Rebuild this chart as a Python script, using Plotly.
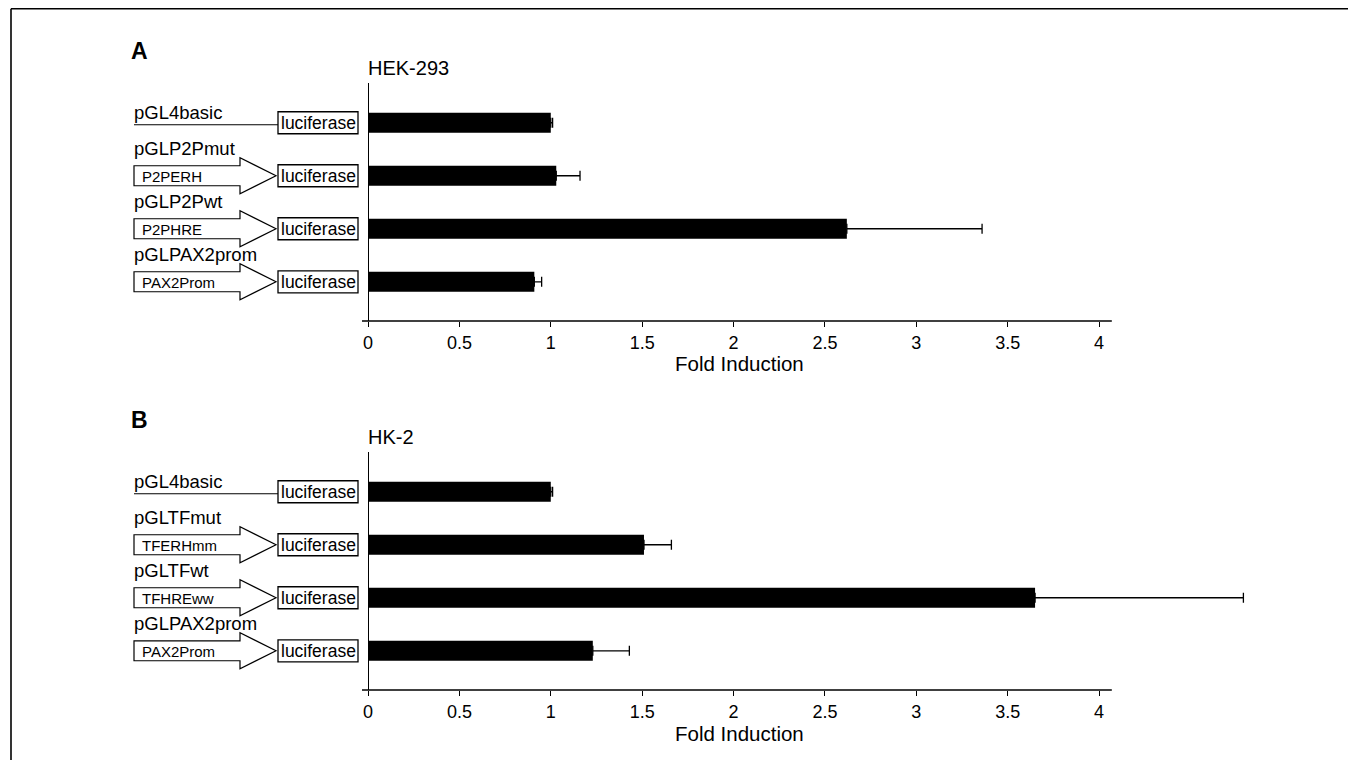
import plotly.graph_objects as go

# ---------------- data ----------------
constructs_A = ["pGL4basic", "pGLP2Pmut", "pGLP2Pwt", "pGLPAX2prom"]
promoters_A = ["", "P2PERH", "P2PHRE", "PAX2Prom"]
fold_A = [1.00, 1.03, 2.62, 0.91]
err_A = [0.01, 0.13, 0.74, 0.04]

constructs_B = ["pGL4basic", "pGLTFmut", "pGLTFwt", "pGLPAX2prom"]
promoters_B = ["", "TFERHmm", "TFHREww", "PAX2Prom"]
fold_B = [1.00, 1.51, 3.65, 1.23]
err_B = [0.01, 0.15, 1.14, 0.20]

x_ticks = [0, 0.5, 1, 1.5, 2, 2.5, 3, 3.5, 4]
x_tick_labels = ["0", "0.5", "1", "1.5", "2", "2.5", "3", "3.5", "4"]

panel_letters = ["A", "B"]
cell_lines = ["HEK-293", "HK-2"]
reporter = "luciferase"
x_title = "Fold Induction"

# ---------------- layout helpers ----------------
OFF = 8                          # browser body margin
WIN_W, WIN_H = 1356, 768
W, H = WIN_W - 2 * OFF, WIN_H - 2 * OFF

FONT = "Liberation Sans, Arial, Helvetica, sans-serif"
SCALE = 182.75                   # px per fold unit
X_MIN, X_AXIS_END, X_MAX = -0.033, 4.07, 4.95
Y_RANGE = [3.74, -0.75]          # reversed category range
AX_L = 362                       # px of x = X_MIN
AX_R = AX_L + (X_MAX - X_MIN) * SCALE
PANEL_DY = 369                   # vertical offset between panels
TOP0, BOT0 = 83, 321             # plot-area top / bottom of panel A (px)


def px(x):
    return (x - OFF) / W


def py(y):
    return 1 - (y - OFF) / H


def row_center(top, bot, idx):
    lo, hi = Y_RANGE[1], Y_RANGE[0]
    return top + (idx - lo) / (hi - lo) * (bot - top)


fig = go.Figure()
shapes = []
annotations = []

panels = [
    (constructs_A, promoters_A, fold_A, err_A),
    (constructs_B, promoters_B, fold_B, err_B),
]

for p, (names, proms, vals, errs) in enumerate(panels):
    top = TOP0 + p * PANEL_DY
    bot = BOT0 + p * PANEL_DY
    xa = "x" if p == 0 else "x2"
    ya = "y" if p == 0 else "y2"
    xkey = "xaxis" if p == 0 else "xaxis2"
    ykey = "yaxis" if p == 0 else "yaxis2"

    fig.add_trace(go.Bar(
        x=vals, y=names, orientation="h",
        marker=dict(color="black", line=dict(width=0)),
        width=0.38,
        error_x=dict(type="data", symmetric=False, array=errs,
                     arrayminus=[0] * len(errs), color="black",
                     thickness=1.3, width=5),
        showlegend=False, xaxis=xa, yaxis=ya, hoverinfo="x+y",
    ))

    fig.update_layout(**{
        xkey: dict(
            domain=[px(AX_L), px(AX_R)], range=[X_MIN, X_MAX], anchor=ya,
            showline=False,
            ticks="outside", ticklen=5, tickwidth=1.2, tickcolor="black",
            tickvals=x_ticks, ticktext=x_tick_labels,
            tickfont=dict(family=FONT, size=18, color="black"),
            showgrid=False, zeroline=True, zerolinecolor="black",
            zerolinewidth=1.3, fixedrange=True,
        ),
        ykey: dict(
            domain=[py(bot), py(top)], anchor=xa, type="category",
            categoryorder="array", categoryarray=names, range=Y_RANGE,
            showline=False, showticklabels=False, ticks="",
            showgrid=False, zeroline=False, fixedrange=True,
        ),
    })

    # x axis line (stops at the end of the tick range)
    shapes.append(dict(type="line", xref=xa, yref=f"{ya} domain",
                       x0=X_MIN, x1=X_AXIS_END, y0=0, y1=0,
                       line=dict(color="black", width=1.3)))

    # panel letter, cell line title, axis title
    annotations.append(dict(
        text=f"<b>{panel_letters[p]}</b>", x=px(139), y=py(51 + p * PANEL_DY),
        xref="paper", yref="paper", xanchor="center", yanchor="middle",
        showarrow=False, font=dict(family=FONT, size=23, color="black")))
    annotations.append(dict(
        text=cell_lines[p], x=px(366), y=py(68 + p * PANEL_DY),
        xref="paper", yref="paper", xanchor="left", yanchor="middle",
        showarrow=False, font=dict(family=FONT, size=20, color="black")))
    annotations.append(dict(
        text=x_title, x=(0 + X_AXIS_END) / 2, y=py(364 + p * PANEL_DY),
        xref=xa, yref="paper", xanchor="center", yanchor="middle",
        showarrow=False, font=dict(family=FONT, size=20.5, color="black")))

    # construct diagrams
    for i, (nm, pr) in enumerate(zip(names, proms)):
        yc = row_center(top, bot, i)
        shapes.append(dict(type="rect", xref="paper", yref="paper",
                           x0=px(278), x1=px(358), y0=py(yc + 11), y1=py(yc - 11),
                           line=dict(color="black", width=1.3), fillcolor="white"))
        annotations.append(dict(
            text=reporter, x=px(318), y=py(yc), xref="paper", yref="paper",
            xanchor="center", yanchor="middle", showarrow=False,
            font=dict(family=FONT, size=17.5, color="black")))
        if pr == "":
            shapes.append(dict(type="line", xref="paper", yref="paper",
                               x0=px(134), x1=px(278), y0=py(yc + 2), y1=py(yc + 2),
                               line=dict(color="black", width=1.2)))
            annotations.append(dict(
                text=nm, x=px(132), y=py(yc - 10), xref="paper", yref="paper",
                xanchor="left", yanchor="middle", showarrow=False,
                font=dict(family=FONT, size=18.5, color="black")))
        else:
            pts = [(134, yc - 10), (240, yc - 10), (240, yc - 18), (276, yc),
                   (240, yc + 18), (240, yc + 10), (134, yc + 10)]
            path = "M " + " L ".join(f"{px(a):.5f},{py(b):.5f}" for a, b in pts) + " Z"
            shapes.append(dict(type="path", xref="paper", yref="paper", path=path,
                               line=dict(color="black", width=1.2), fillcolor="white"))
            annotations.append(dict(
                text=pr, x=px(140), y=py(yc + 1), xref="paper", yref="paper",
                xanchor="left", yanchor="middle", showarrow=False,
                font=dict(family=FONT, size=15, color="black")))
            annotations.append(dict(
                text=nm, x=px(132), y=py(yc - 27), xref="paper", yref="paper",
                xanchor="left", yanchor="middle", showarrow=False,
                font=dict(family=FONT, size=18.5, color="black")))

# figure frame (top and left edges)
shapes.append(dict(type="line", xref="paper", yref="paper",
                   x0=px(11), x1=1, y0=py(8.8), y1=py(8.8),
                   line=dict(color="black", width=1.6)))
shapes.append(dict(type="line", xref="paper", yref="paper",
                   x0=px(11), x1=px(11), y0=py(8.8), y1=0,
                   line=dict(color="black", width=1.6)))

fig.update_layout(
    width=W, height=H,
    margin=dict(l=0, r=0, t=0, b=0),
    paper_bgcolor="white", plot_bgcolor="white",
    shapes=shapes, annotations=annotations,
    showlegend=False,
    font=dict(family=FONT, color="black"),
)

fig.write_html("out.html")
